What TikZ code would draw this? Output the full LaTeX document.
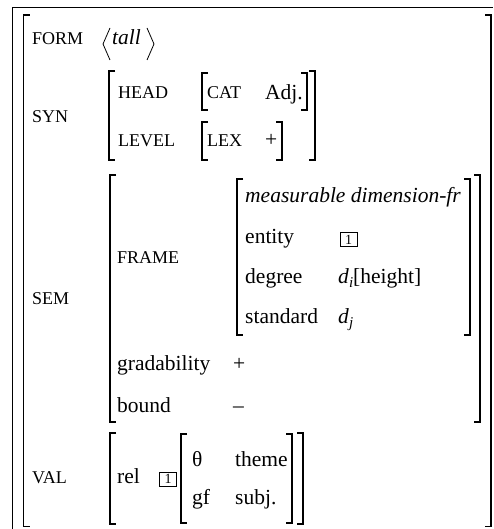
\documentclass[tikz,border=0pt]{standalone}
\usepackage{fontspec}
\setmainfont{Liberation Serif}
\newcommand\Lbrk[3]{\draw[brk] (#1+6,#2) -- (#1,#2) -- (#1,#3) -- (#1+6,#3);}
\newcommand\Rbrk[3]{\draw[brk] (#1-6,#2) -- (#1,#2) -- (#1,#3) -- (#1-6,#3);}
\tikzset{
  lbl/.style={anchor=base west, inner sep=0pt, font=\fontsize{21.5}{26}\selectfont},
  itl/.style={lbl, font=\fontsize{21.5}{26}\selectfont\itshape},
  sc/.style={anchor=base west, inner sep=0pt, font=\fontsize{18}{22}\selectfont},
  brk/.style={line width=1.3pt, line cap=butt},
  boxn/.style={draw, line width=0.7pt, minimum width=17pt, minimum height=14pt, inner sep=0pt, font=\fontsize{14}{14}\selectfont},
  frame/.style={line width=0.9pt},
  angl/.style={line width=0.8pt},
}
\begin{document}
\begin{tikzpicture}[x=1pt,y=-1pt]
\useasboundingbox (0,0) rectangle (493,529);
% frame
\draw[frame] (12,529) -- (12,7) -- (493,7);
% outer matrix
\Lbrk{23.5}{15}{526.5}
\Rbrk{491}{15}{526.5}
% FORM
\node[sc] (form) at (32,45) {FORM};
\draw[angl] (110,28) -- (103,44) -- (110,60);
\node[itl] (tall) at (112,45) {tall};
\draw[angl] (147,28) -- (154,44) -- (147,60);
% SYN
\node[sc] (syn) at (32,123) {SYN};
\Lbrk{109}{71}{160}
\Rbrk{315}{71}{160}
\node[sc] (head) at (118,99) {HEAD};
\Lbrk{202}{73}{110}
\node[sc] (cat) at (207,99) {CAT};
\node[lbl] (adj) at (265,100) {Adj.};
\Rbrk{307}{73}{110}
\node[sc] (level) at (118,147) {LEVEL};
\Lbrk{202}{122}{160}
\node[sc] (lex) at (207,147) {LEX};
\node[lbl] (plus1) at (265,147) {+};
\Rbrk{282}{122}{160}
% SEM
\node[sc] (sem) at (32,304) {SEM};
\Lbrk{110}{175}{422}
\Rbrk{480}{175}{422}
\node[sc] (frm) at (117,263) {FRAME};
\Lbrk{237}{179}{335}
\Rbrk{470}{179}{335}
\node[itl] (mdf) at (245,203) {measurable dimension-fr};
\node[lbl] (ent) at (245,243) {entity};
\node[boxn] (b1) at (348.5,239.5) {1};
\node[lbl] (deg) at (245,283) {degree};
\node[lbl] (di) at (338,283) {\textit{d}\raisebox{-4pt}{\fontsize{15}{15}\selectfont\itshape i}[height]};
\node[lbl] (std) at (245,323) {standard};
\node[lbl] (dj) at (338,323) {\textit{d}\raisebox{-4pt}{\fontsize{15}{15}\selectfont\itshape j}};
\node[lbl] (grad) at (117,370) {gradability};
\node[lbl] (plus2) at (233,370) {+};
\node[lbl] (bnd) at (117,412) {bound};
\node[lbl] (minus) at (233,412) {–};
% VAL
\node[sc] (val) at (32,483) {VAL};
\Lbrk{110}{433}{524}
\Rbrk{303}{433}{524}
\node[lbl] (rel) at (117,483) {rel};
\node[boxn] (b2) at (168,479) {1};
\Lbrk{181}{434}{523}
\Rbrk{292}{434}{523}
\node[lbl] (th) at (192,466) {θ};
\node[lbl] (theme) at (235,466) {theme};
\node[lbl] (gf) at (192,504) {gf};
\node[lbl] (subj) at (235,504) {subj.};
\end{tikzpicture}
\end{document}
